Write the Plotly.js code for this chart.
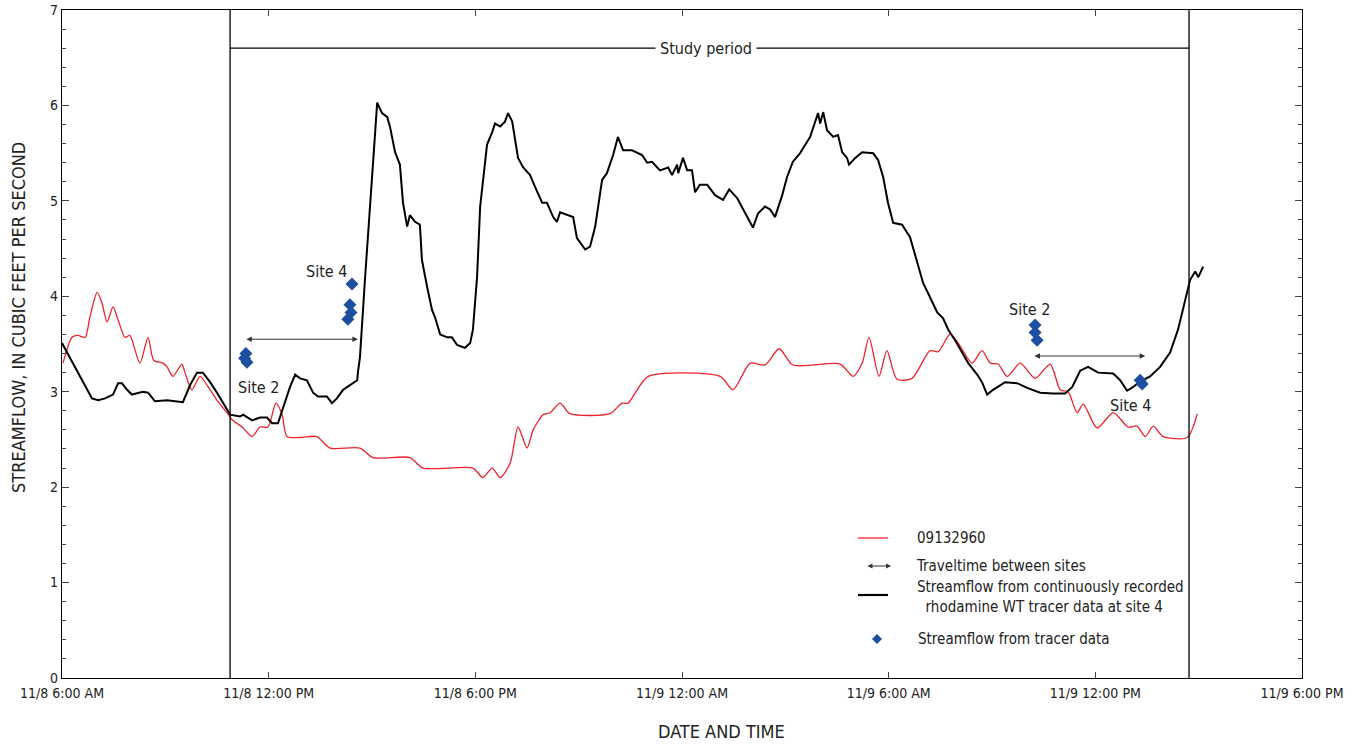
<!DOCTYPE html>
<html><head><meta charset="utf-8">
<script src="https://cdn.plot.ly/plotly-3.0.1.min.js"></script>
<style>body{margin:0;background:#fff}#c{width:1367px;height:744px}</style>
</head><body><div id="c"></div>
<script>
// hours elapsed since 11/8 6:00 AM
const blackHours = [0.00,0.15,0.38,0.52,0.73,0.87,1.05,1.25,1.48,1.63,1.74,1.89,2.03,2.26,2.35,2.50,2.70,3.05,3.34,3.51,3.72,3.92,4.09,4.30,4.50,4.67,4.88,5.17,5.26,5.52,5.75,5.95,6.10,6.27,6.42,6.62,6.77,6.91,7.11,7.29,7.43,7.69,7.84,7.98,8.16,8.36,8.57,8.59,8.65,8.80,9.00,9.09,9.15,9.29,9.44,9.52,9.67,9.81,9.90,10.02,10.10,10.25,10.39,10.45,10.60,10.74,10.83,10.98,11.18,11.32,11.47,11.70,11.85,11.93,12.05,12.14,12.34,12.49,12.57,12.72,12.86,12.95,13.07,13.24,13.39,13.59,13.73,13.94,14.08,14.26,14.37,14.46,14.84,14.95,15.19,15.33,15.48,15.68,15.82,16.00,16.14,16.29,16.55,16.84,16.99,17.13,17.36,17.60,17.71,17.86,17.89,18.03,18.15,18.29,18.38,18.52,18.73,18.96,19.19,19.37,19.60,19.74,19.89,20.06,20.21,20.41,20.56,20.70,20.91,21.05,21.22,21.43,21.72,21.86,21.95,22.01,22.10,22.21,22.39,22.53,22.65,22.79,22.85,23.03,23.23,23.55,23.69,23.84,23.98,24.13,24.39,24.62,24.83,25.00,25.20,25.41,25.58,25.73,25.93,26.13,26.31,26.57,26.71,26.86,27.03,27.38,27.73,28.02,28.40,28.77,29.12,29.33,29.56,29.79,30.08,30.52,30.72,30.92,31.10,31.27,31.59,31.88,32.17,32.40,32.60,32.75,32.90,32.99,33.13];
const blackFlow = [3.51,3.41,3.26,3.16,3.02,2.93,2.91,2.93,2.97,3.09,3.09,3.02,2.97,2.99,3.00,2.99,2.90,2.91,2.90,2.89,3.07,3.20,3.20,3.10,2.99,2.88,2.76,2.74,2.76,2.70,2.73,2.73,2.67,2.67,2.83,3.05,3.18,3.14,3.12,2.99,2.95,2.95,2.88,2.93,3.02,3.07,3.12,3.20,3.36,4.20,5.32,5.71,6.03,5.92,5.88,5.78,5.51,5.38,4.98,4.73,4.85,4.78,4.75,4.38,4.10,3.86,3.78,3.60,3.57,3.57,3.49,3.46,3.51,3.65,4.20,4.94,5.59,5.72,5.81,5.78,5.83,5.92,5.83,5.45,5.35,5.27,5.15,4.98,4.98,4.83,4.78,4.88,4.83,4.61,4.49,4.52,4.73,5.22,5.29,5.48,5.67,5.53,5.53,5.48,5.40,5.41,5.32,5.35,5.27,5.38,5.29,5.45,5.32,5.32,5.09,5.17,5.17,5.06,5.01,5.12,5.03,4.94,4.84,4.72,4.87,4.94,4.91,4.83,5.06,5.25,5.41,5.50,5.67,5.81,5.92,5.81,5.93,5.74,5.67,5.69,5.51,5.45,5.38,5.45,5.51,5.50,5.43,5.25,4.98,4.77,4.75,4.62,4.35,4.14,3.99,3.83,3.77,3.65,3.54,3.41,3.30,3.18,3.10,2.97,3.02,3.10,3.09,3.04,2.99,2.98,2.98,3.05,3.22,3.26,3.20,3.19,3.12,3.01,3.05,3.10,3.16,3.26,3.41,3.65,3.96,4.17,4.26,4.20,4.31];

const redHours = [0.03,0.29,0.46,0.67,0.81,1.02,1.16,1.31,1.48,1.63,1.83,1.97,2.26,2.50,2.66,2.93,3.05,3.22,3.48,3.57,3.77,4.01,4.21,4.50,4.79,4.96,5.23,5.52,5.75,5.98,6.21,6.39,6.53,6.91,7.40,7.78,8.65,9.03,10.10,10.48,11.93,12.22,12.49,12.72,13.01,13.24,13.50,13.68,13.97,14.17,14.46,14.75,15.91,16.26,16.43,17.02,19.11,19.48,19.98,20.41,20.82,21.22,22.59,22.97,23.23,23.43,23.72,23.95,24.24,24.68,25.20,25.44,25.78,26.02,26.42,26.71,26.95,27.18,27.44,27.82,28.25,28.69,28.98,29.21,29.47,29.65,30.05,30.52,30.95,31.21,31.45,31.68,31.97,32.67,32.96];
const redFlow = [3.30,3.57,3.59,3.57,3.78,4.04,3.93,3.73,3.89,3.75,3.57,3.59,3.30,3.57,3.33,3.30,3.26,3.16,3.29,3.20,3.02,3.16,3.07,2.91,2.78,2.70,2.63,2.53,2.63,2.63,2.88,2.76,2.53,2.52,2.53,2.41,2.41,2.31,2.31,2.20,2.20,2.10,2.20,2.10,2.25,2.63,2.41,2.60,2.76,2.78,2.88,2.77,2.77,2.88,2.88,3.16,3.16,3.02,3.30,3.28,3.45,3.28,3.29,3.16,3.30,3.57,3.16,3.43,3.13,3.14,3.43,3.42,3.60,3.51,3.30,3.43,3.30,3.29,3.16,3.30,3.14,3.29,3.02,3.00,2.78,2.87,2.62,2.78,2.63,2.64,2.53,2.64,2.53,2.52,2.77];

const tracerHours = [5.34,5.30,5.37,8.42,8.36,8.39,8.30,28.25,28.25,28.31,31.30,31.36];
const tracerFlow  = [3.40,3.35,3.31,4.13,3.91,3.83,3.76,3.70,3.62,3.54,3.12,3.08];

const studyStart = 4.88, studyEnd = 32.72, studyLevel = 6.6;
const travel1 = [5.31, 8.59], travel1Level = 3.55;
const travel2 = [28.19, 31.45], travel2Level = 3.375;

const xTickVals = [0,6,12,18,24,30,36];
const xTickText = ['11/8 6:00 AM','11/8 12:00 PM','11/8 6:00 PM','11/9 12:00 AM','11/9 6:00 AM','11/9 12:00 PM','11/9 6:00 PM'];

const FONT = '"Liberation Sans Narrow", "DejaVu Sans Condensed", "Roboto", sans-serif';
const W = 1367, H = 744, L = 62, R = 65, T = 10, B = 66;
const pw = W - L - R, ph = H - T - B;
const px = v => (v - L) / pw;      // pixel -> paper x
const py = v => (H - B - v) / ph;  // pixel -> paper y

const traces = [
  {x: redHours, y: redFlow, mode: 'lines', line: {color: '#ee2229', width: 1.3, shape: 'spline', smoothing: 0.7}, hoverinfo: 'skip'},
  {x: blackHours, y: blackFlow, mode: 'lines', line: {color: '#000', width: 2}, hoverinfo: 'skip'},
  {x: tracerHours, y: tracerFlow, mode: 'markers', marker: {symbol: 'diamond', size: 10, color: '#1d4fa0'}, hoverinfo: 'skip'}
];

const ann = [];
const txt = (x, y, text, opts) => Object.assign({x, y, text, showarrow: false, yanchor: 'middle', font: {family: FONT, size: 16, color: '#222'}}, opts || {});

ann.push(txt((studyStart + studyEnd) / 2 - 0.1, studyLevel, 'Study period', {bgcolor: '#fff', borderpad: 4}));
ann.push(txt(5.05, 3.04, 'Site 2', {xanchor: 'left'}));
ann.push(txt(8.33, 4.26, 'Site 4', {xanchor: 'right'}));
ann.push(txt(28.75, 3.86, 'Site 2', {xanchor: 'right'}));
ann.push(txt(31.01, 2.86, 'Site 4', {xanchor: 'center'}));
// travel-time arrows
[[travel1, travel1Level], [travel2, travel2Level]].forEach(([r, lv]) => {
  ann.push({x: r[1], y: lv, ax: r[0], ay: lv, xref: 'x', yref: 'y', axref: 'x', ayref: 'y', text: '', showarrow: true,
    arrowhead: 2, startarrowhead: 2, arrowside: 'end+start', arrowsize: 1, arrowwidth: 1.1, arrowcolor: '#333'});
});
// axis titles
ann.push({xref: 'paper', yref: 'paper', x: px(18), y: py(318), xanchor: 'center', yanchor: 'middle', text: 'STREAMFLOW, IN CUBIC FEET PER SECOND', textangle: -90, showarrow: false, font: {family: FONT, size: 18, color: '#222'}});
ann.push({xref: 'paper', yref: 'paper', x: px(721), y: py(731), xanchor: 'center', yanchor: 'middle', text: 'DATE AND TIME', showarrow: false, font: {family: FONT, size: 18, color: '#222'}});
// custom legend
const lf = {family: FONT, size: 15, color: '#222'};
const lg = (x, y, text, extra) => Object.assign({xref: 'paper', yref: 'paper', x: px(x), y: py(y), xanchor: 'left', yanchor: 'middle', align: 'left', text, showarrow: false, font: lf}, extra || {});
ann.push(lg(915, 538, '09132960'));
ann.push(lg(914, 566, 'Traveltime between sites'));
ann.push(lg(915, 597, 'Streamflow from continuously recorded<br>  rhodamine WT tracer data at site 4'));
ann.push(lg(916, 639, 'Streamflow from tracer data'));
ann.push({xref: 'paper', yref: 'paper', x: px(891), y: py(566), ax: -25, ay: 0, text: '', showarrow: true, arrowhead: 2, startarrowhead: 2, arrowside: 'end+start', arrowsize: 0.9, arrowwidth: 1.1, arrowcolor: '#333'});

const shapes = [
  {type: 'line', xref: 'x', yref: 'paper', x0: studyStart, x1: studyStart, y0: 0, y1: 1, line: {color: '#000', width: 1.3}},
  {type: 'line', xref: 'x', yref: 'paper', x0: studyEnd, x1: studyEnd, y0: 0, y1: 1, line: {color: '#000', width: 1.3}},
  {type: 'line', xref: 'x', yref: 'y', x0: studyStart, x1: studyEnd, y0: studyLevel, y1: studyLevel, line: {color: '#000', width: 1.3}},
  {type: 'line', xref: 'paper', yref: 'paper', x0: px(858), x1: px(888), y0: py(538), y1: py(538), line: {color: '#ee2229', width: 1.3}},
  {type: 'line', xref: 'paper', yref: 'paper', x0: px(858), x1: px(888), y0: py(595), y1: py(595), line: {color: '#000', width: 2.2}},
  {type: 'path', xref: 'paper', yref: 'paper', path: `M ${px(877)} ${py(634)} L ${px(882)} ${py(639)} L ${px(877)} ${py(644)} L ${px(872)} ${py(639)} Z`, fillcolor: '#1d4fa0', line: {width: 0}}
];

const axisCommon = {showline: true, linecolor: '#000', linewidth: 1.2, mirror: 'ticks', ticks: 'inside', tickcolor: '#444', showgrid: false, zeroline: false,
  tickfont: {family: FONT, size: 14, color: '#222'}};

const layout = {
  width: W, height: H, margin: {l: L, r: R, t: T, b: B}, showlegend: false,
  paper_bgcolor: '#fff', plot_bgcolor: '#fff',
  xaxis: Object.assign({}, axisCommon, {range: [0, 36], tickvals: xTickVals, ticktext: xTickText, ticklen: 6, ticklabelstandoff: 2}),
  yaxis: Object.assign({}, axisCommon, {range: [0, 7], dtick: 1, ticklen: 7, minor: {dtick: 0.2, ticks: 'inside', ticklen: 4, tickcolor: '#444'}}),
  annotations: ann, shapes: shapes
};
Plotly.newPlot('c', traces, layout, {staticPlot: true});
</script></body></html>
